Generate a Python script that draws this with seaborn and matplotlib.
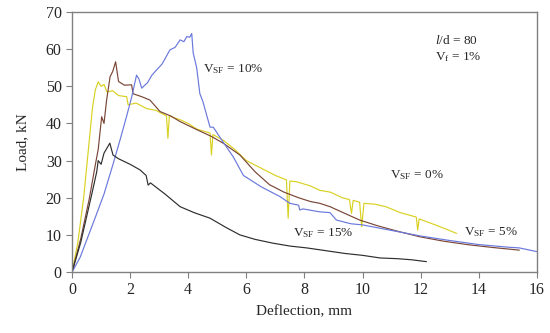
import numpy as np
import seaborn as sns
import matplotlib.pyplot as plt
import pandas as pd

# load-deflection curves
x_sf0 = [0, 0.2, 0.4, 0.55, 0.7, 0.8, 0.9, 1.0, 1.1, 1.2, 1.4, 1.6, 1.88, 1.93, 2.2, 2.57, 2.9, 3.25, 3.3, 3.35,
         3.72, 4.0, 4.29, 4.75, 4.8, 4.85, 5.2, 5.6, 6.0, 6.5, 7.0, 7.38, 7.44, 7.5, 7.73, 8.2, 8.53, 8.9, 9.3, 9.55,
         9.62, 9.68, 9.9, 9.97, 10.05, 10.4, 10.8, 11.3, 11.85, 11.9, 11.95, 12.4, 12.8, 13.24]
y_sf0 = [0, 8, 20, 32, 44, 49, 51.2, 50, 50.5, 48.5, 48.8, 47.5, 47.2, 45, 45.5, 44, 43.5, 42, 36, 42,
         41, 40, 38.5, 37.4, 31.5, 37, 35.5, 33, 30, 28, 26, 24.8, 14.5, 24.5, 24.3, 23.2, 22, 21.5, 20, 19.5,
         15.8, 19.3, 18.8, 12.2, 18.5, 18.3, 17.6, 16, 14.8, 11.3, 14.3, 13, 11.8, 10.4]

x_sf5 = [0, 0.3, 0.6, 0.79, 0.9, 1.02, 1.1, 1.19, 1.31, 1.4, 1.5, 1.6, 1.8, 2.05, 2.1, 2.4, 2.68, 3.03, 3.4,
         3.72, 4.33, 4.8, 5.2, 5.78, 6.3, 6.8, 7.3, 7.8, 8.2, 8.53, 8.88, 9.9, 10.5, 11.2, 11.97, 12.8, 13.7,
         14.5, 15.4]
y_sf5 = [0, 9, 20, 28.4, 33, 41.8, 40, 46.3, 52.6, 54, 56.6, 51.3, 50.3, 50.4, 48, 47.2, 46.3, 43.2, 42,
         40.5, 38.2, 36.5, 34.7, 31.5, 27, 23.5, 21.5, 20, 19, 18.5, 17.6, 14, 12.5, 11, 9.5, 8.3, 7.3,
         6.6, 5.9]

x_sf10 = [0, 0.28, 0.79, 1.1, 1.41, 1.65, 1.88, 2.05, 2.22, 2.3, 2.4, 2.6, 2.75, 2.91, 3.1, 3.37, 3.55, 3.72,
          3.85, 3.95, 4.05, 4.12, 4.17, 4.29, 4.4, 4.5, 4.75, 4.86, 5.2, 5.55, 5.9, 6.5, 7.16, 7.5, 7.8, 7.84,
          7.95, 8.53, 8.88, 9.1, 9.6, 10.0, 11.0, 12.0, 13.0, 14.0, 15.0, 15.4, 16.0]
y_sf10 = [0, 4, 14.5, 21, 29, 35.5, 42, 47, 53, 52, 49.5, 51, 53, 54.4, 56, 59.8, 60.5, 62.5,
          62, 63.4, 63.2, 64.2, 59, 55, 48, 46, 39, 39, 35, 31, 26, 23, 20.3, 18.5, 18, 16.7,
          17, 16.2, 16, 14, 13, 12.7, 11.2, 9.7, 8.5, 7.4, 6.7, 6.5, 5.5]

x_sf15 = [0, 0.3, 0.68, 0.85, 0.9, 1.0, 1.1, 1.3, 1.41, 1.6, 2.0, 2.34, 2.55, 2.62, 2.7, 3.2, 3.72, 4.2, 4.75,
          5.3, 5.78, 6.3, 6.9, 7.5, 8.08, 8.7, 9.4, 10.0, 10.6, 11.2, 11.7, 12.2]
y_sf15 = [0, 8, 21, 27, 30, 29, 32, 34.7, 31.5, 30.5, 29, 27.5, 26, 23.4, 24, 21, 17.6, 16, 14.5,
          12, 10, 8.8, 7.8, 7, 6.5, 5.8, 5, 4.5, 3.8, 3.6, 3.3, 2.8]

series = ['0%', '5%', '10%', '15%']
colors = ['#d9d122', '#7a4636', '#6a78dc', '#2e2e2e']

frames = []
for name, xs, ys in zip(series, [x_sf0, x_sf5, x_sf10, x_sf15], [y_sf0, y_sf5, y_sf10, y_sf15]):
    frames.append(pd.DataFrame({'defl': xs, 'load': ys, 'vsf': name, 'order': np.arange(len(xs))}))
df = pd.concat(frames, ignore_index=True)

sns.set_style('ticks')
plt.rcParams['font.family'] = ['Liberation Serif', 'DejaVu Serif']
plt.rcParams['mathtext.fontset'] = 'custom'
plt.rcParams['mathtext.rm'] = 'Liberation Serif'
plt.rcParams['mathtext.it'] = 'Liberation Serif:italic'

fig = plt.figure(figsize=(5.5, 3.33), dpi=100)
ax = fig.add_axes([0.131, 0.183, 0.845, 0.781])
sns.lineplot(data=df, x='defl', y='load', hue='vsf', palette=colors, hue_order=series,
             sort=False, estimator=None, units='vsf', linewidth=0.85, legend=False, ax=ax)

ax.set_xlim(0, 16)
ax.set_ylim(0, 70)
ax.set_xticks(range(0, 17, 2))
ax.set_yticks(range(0, 71, 10))
ax.set_xlabel('Deflection, mm', fontsize=11, labelpad=5)
ax.set_ylabel('Load, kN', fontsize=11, labelpad=12)
ax.tick_params(labelsize=11.5, direction='out', length=4, color='#808080')
for s in ax.spines.values():
    s.set_color('#808080')
    s.set_linewidth(1)

fs = 9.5
ax.text(4.5, 54.5, r'V$_{\rm SF}$ = 10%', fontsize=fs, va='center')
ax.text(10.95, 26.1, r'V$_{\rm SF}$ = 0%', fontsize=fs, va='center')
ax.text(13.5, 10.8, r'V$_{\rm SF}$ = 5%', fontsize=fs, va='center')
ax.text(7.6, 10.5, r'V$_{\rm SF}$ = 15%', fontsize=fs, va='center')
ax.text(12.5, 62.4, r'$\mathit{l}$/d = 80', fontsize=fs, va='center')
ax.text(12.5, 57.8, r'V$_{\rm f}$ = 1%', fontsize=fs, va='center')

plt.savefig('out.png', dpi=100)
